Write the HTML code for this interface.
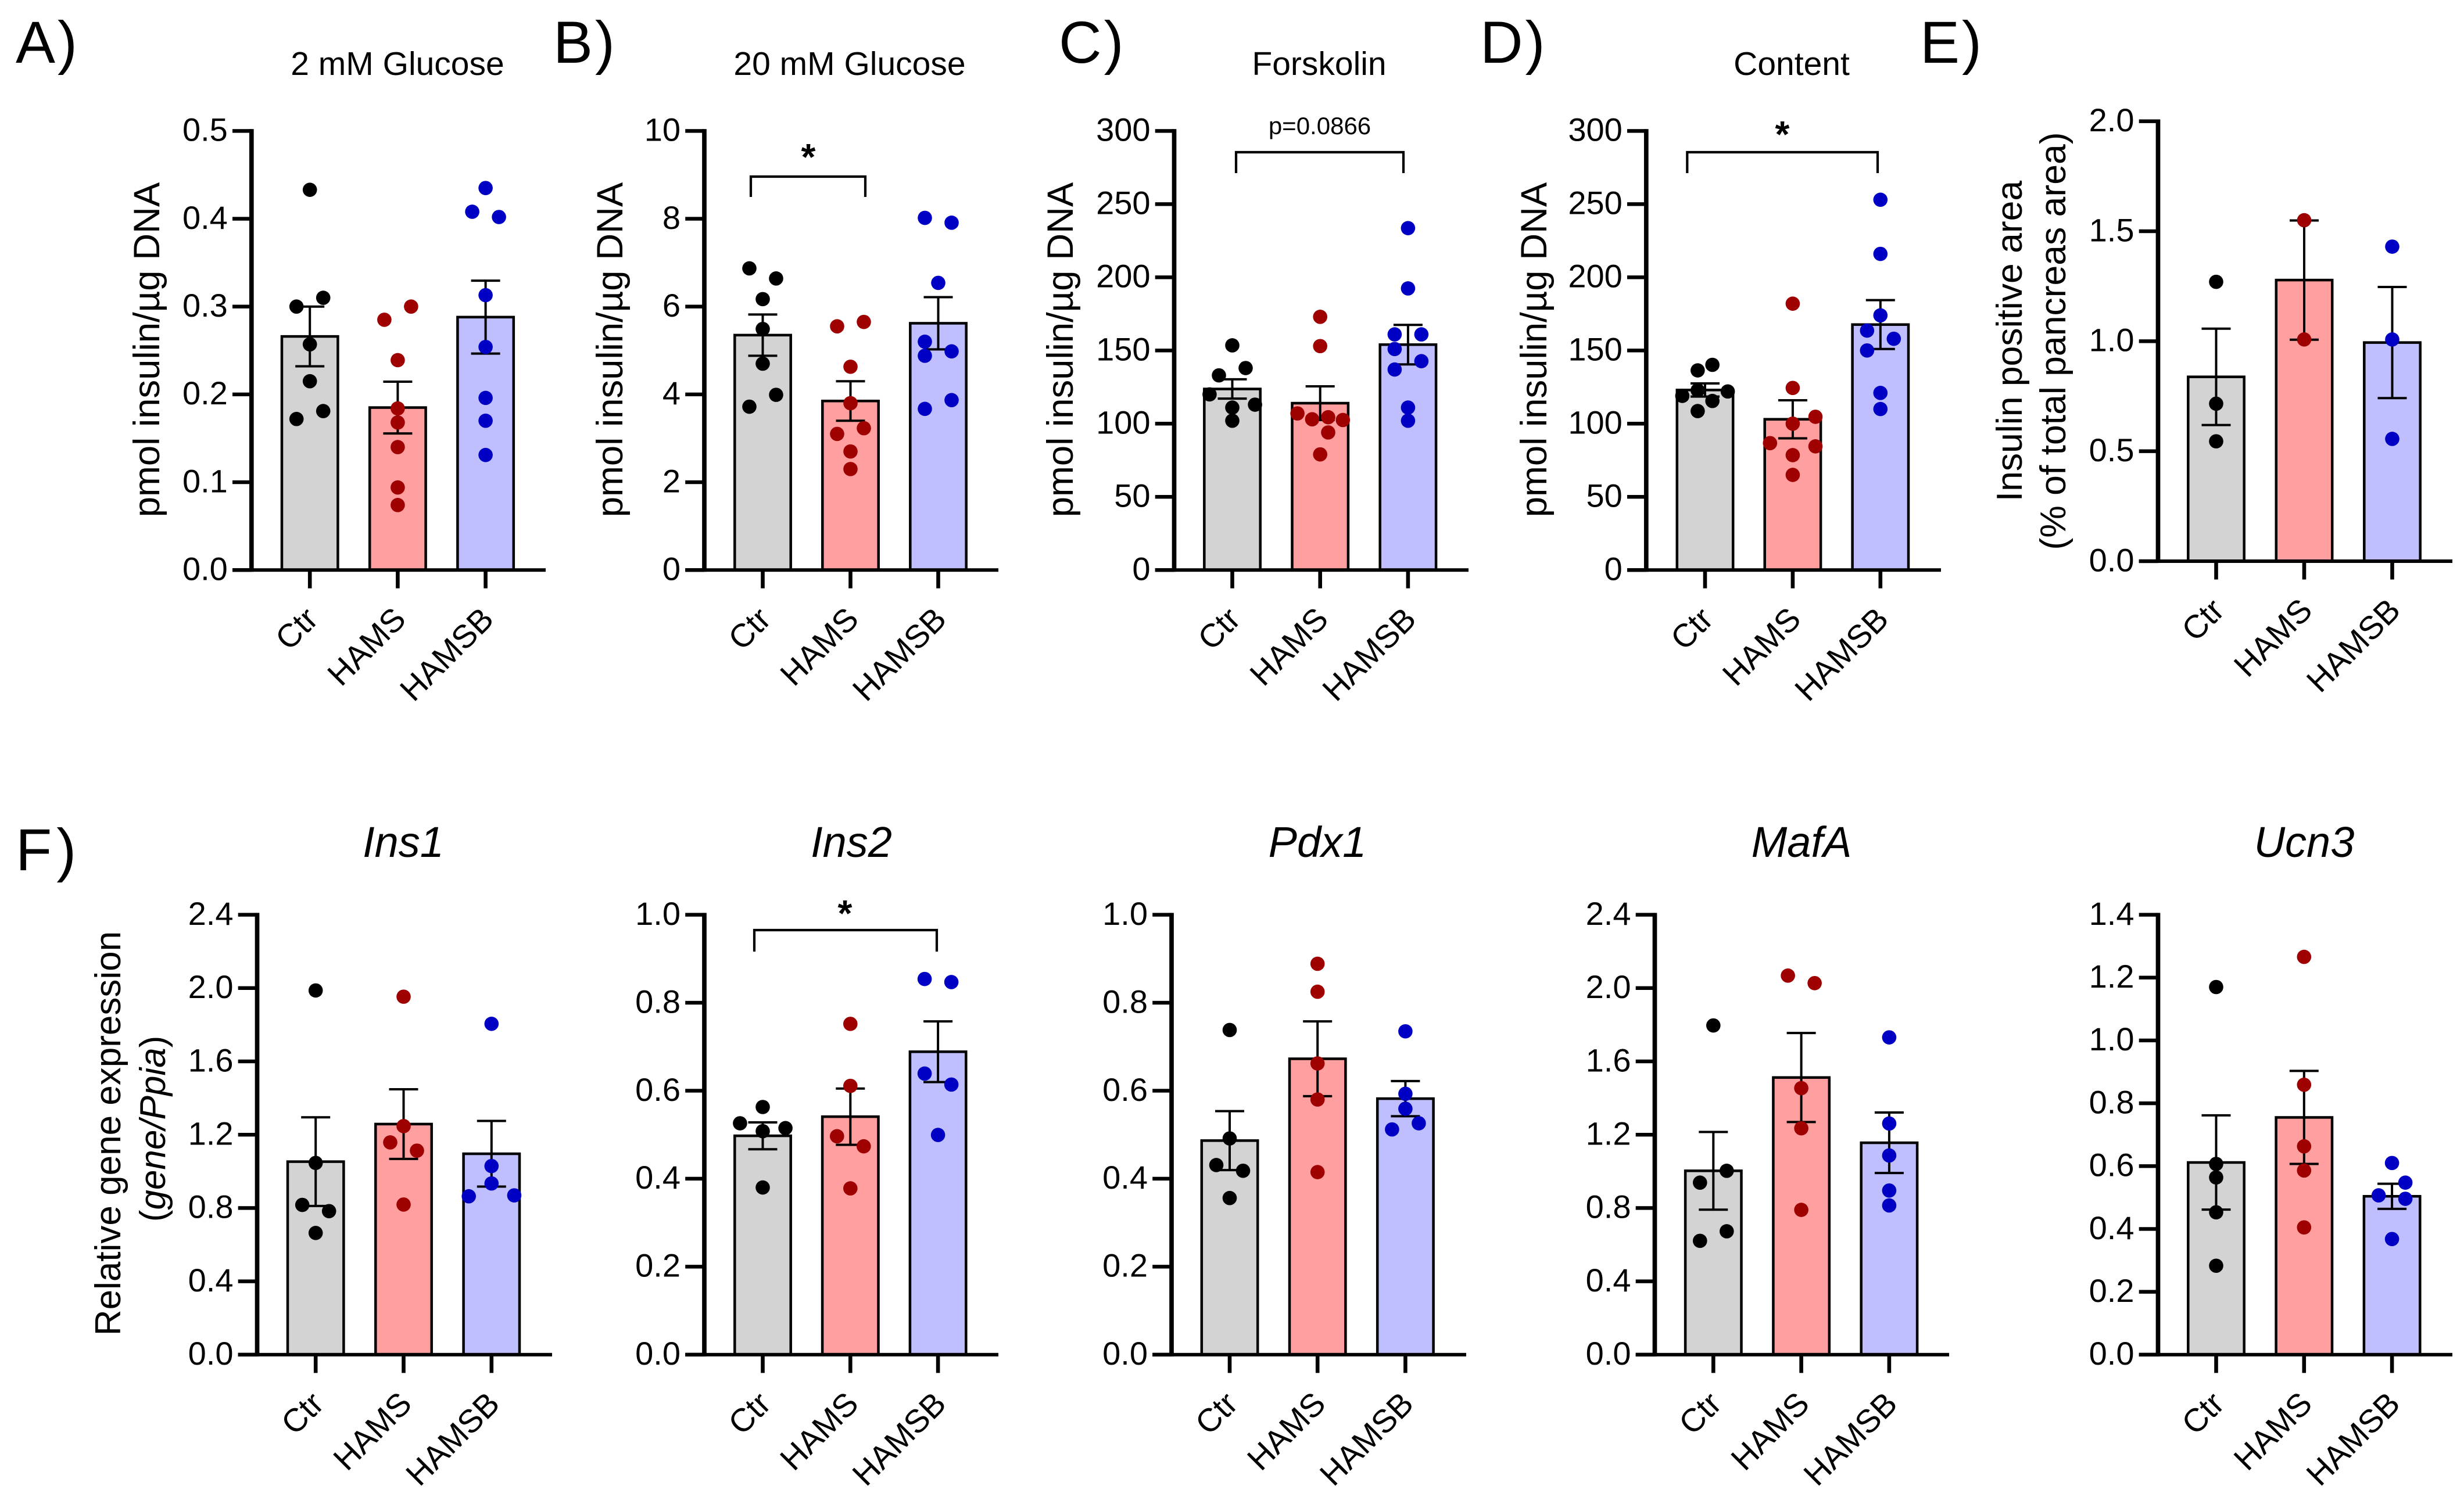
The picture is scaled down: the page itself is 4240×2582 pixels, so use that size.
<!DOCTYPE html>
<html lang="en">
<head>
<meta charset="utf-8">
<title>Insulin secretion and gene expression bar charts</title>
<style>
html,body{margin:0;padding:0;background:#fff;}
svg{display:block;}
text{font-family:"Liberation Sans",Arial,sans-serif;fill:#000;}
</style>
</head>
<body>
<svg id="figure" xmlns="http://www.w3.org/2000/svg" width="4240" height="2582" viewBox="0 0 4240 2582">
<rect width="4240" height="2582" fill="#fff"/>

<text x="27" y="108" font-size="102" letter-spacing="4">A)</text>
<text x="952" y="108" font-size="102" letter-spacing="4">B)</text>
<text x="1822" y="108" font-size="102" letter-spacing="4">C)</text>
<text x="2547" y="108" font-size="102" letter-spacing="4">D)</text>
<text x="3304" y="108" font-size="102" letter-spacing="4">E)</text>
<text x="27" y="1498" font-size="102" letter-spacing="8">F)</text>

<g id="panel-a">
<text x="684" y="129" font-size="57" text-anchor="middle">2 mM Glucose</text>
<text transform="translate(274,602) rotate(-90)" font-size="63.500" text-anchor="middle">pmol insulin/µg DNA</text>
</g>
<g id="panel-b">
<text x="1462" y="129" font-size="57" text-anchor="middle">20 mM Glucose</text>
<text transform="translate(1071,602) rotate(-90)" font-size="63.500" text-anchor="middle">pmol insulin/µg DNA</text>
<path d="M1292 339V304H1489V339" fill="none" stroke="#000" stroke-width="4.200"/>
<text x="1391" y="292" font-size="64" font-weight="bold" text-anchor="middle">*</text>
</g>
<g id="panel-c">
<text x="2270" y="129" font-size="57" text-anchor="middle">Forskolin</text>
<text transform="translate(1846,602) rotate(-90)" font-size="63.500" text-anchor="middle">pmol insulin/µg DNA</text>
<path d="M2127 298V262H2415V298" fill="none" stroke="#000" stroke-width="4.200"/>
<text x="2271" y="231" font-size="42" text-anchor="middle">p=0.0866</text>
</g>
<g id="panel-d">
<text x="3083" y="129" font-size="57" text-anchor="middle">Content</text>
<text transform="translate(2661,602) rotate(-90)" font-size="63.500" text-anchor="middle">pmol insulin/µg DNA</text>
<path d="M2903.300 298V262H3231V298" fill="none" stroke="#000" stroke-width="4.200"/>
<text x="3067" y="253" font-size="64" font-weight="bold" text-anchor="middle">*</text>
</g>
<g id="panel-e">
<text transform="translate(3479,587) rotate(-90)" font-size="62.500" text-anchor="middle">Insulin positive area</text>
<text transform="translate(3554,587) rotate(-90)" font-size="62.500" text-anchor="middle">(% of total pancreas area)</text>
</g>
<g id="panel-ins1">
<text x="694" y="1475" font-size="74" font-style="italic" text-anchor="middle">Ins1</text>
<text transform="translate(207,1951) rotate(-90)" font-size="62" text-anchor="middle">Relative gene expression</text>
<text transform="translate(284,1943) rotate(-90)" font-size="62" text-anchor="middle">(<tspan font-style="italic">gene/Ppia</tspan>)</text>
</g>
<g id="panel-ins2">
<text x="1465" y="1475" font-size="74" font-style="italic" text-anchor="middle">Ins2</text>
<path d="M1298 1638V1601H1612V1638" fill="none" stroke="#000" stroke-width="4.200"/>
<text x="1454" y="1594" font-size="64" font-weight="bold" text-anchor="middle">*</text>
</g>
<g id="panel-pdx1">
<text x="2267" y="1475" font-size="74" font-style="italic" text-anchor="middle">Pdx1</text>
</g>
<g id="panel-mafa">
<text x="3100" y="1475" font-size="74" font-style="italic" text-anchor="middle">MafA</text>
</g>
<g id="panel-ucn3">
<text x="3965" y="1475" font-size="74" font-style="italic" text-anchor="middle">Ucn3</text>
</g>
</svg>

<script>
const categories = ['Ctr', 'HAMS', 'HAMSB'];

const aTicks = ['0.0', '0.1', '0.2', '0.3', '0.4', '0.5'];
const aMeans = [0.266, 0.185, 0.288];
const aSems = [0.034, 0.0295, 0.0415];
const aCtr = [0.433, 0.310, 0.300, 0.257, 0.215, 0.181, 0.172];
const aCtrSpread = [0, 1, -1, 0, 0, 1, -1];
const aHams = [0.300, 0.285, 0.239, 0.184, 0.168, 0.140, 0.094, 0.074];
const aHamsSpread = [1, -1, 0, 0, 0, 0, 0, 0];
const aHamsb = [0.435, 0.408, 0.402, 0.313, 0.254, 0.196, 0.170, 0.131];
const aHamsbSpread = [0, -1, 1, 0, 0, 0, 0, 0];

const bTicks = ['0', '2', '4', '6', '8', '10'];
const bMeans = [5.35, 3.85, 5.62];
const bSems = [0.47, 0.45, 0.595];
const bCtr = [6.87, 6.64, 6.17, 5.49, 4.70, 3.99, 3.72];
const bCtrSpread = [-1, 1, 0, 0, 0, 1, -1];
const bHams = [5.65, 5.55, 4.63, 3.80, 3.23, 3.10, 2.70, 2.30];
const bHamsSpread = [1, -1, 0, 0, 1, -1, 0, 0];
const bHamsb = [8.02, 7.91, 6.54, 5.20, 4.88, 4.98, 3.87, 3.67];
const bHamsbSpread = [-1, 1, 0, -1, -1, 1, 1, -1];

const cTicks = ['0', '50', '100', '150', '200', '250', '300'];
const cMeans = [123.7, 114, 154];
const cSems = [6.6, 11.5, 13.5];
const cCtr = [153.5, 138, 133, 120, 113, 111, 102];
const cCtrSpread = [0, 1, -1, -1.7, 1.7, 0, 0];
const cHams = [173, 153, 107, 103, 104.4, 102.5, 94, 79];
const cHamsSpread = [0, 0, -1.7, -0.6, 0.6, 1.7, 0.6, 0];
const cHamsb = [233.6, 192.4, 161, 161, 151, 142.7, 137, 111, 102];
const cHamsbSpread = [0, 0, -1, 1, -1, 1, -1, 0, 0];

const dTicks = ['0', '50', '100', '150', '200', '250', '300'];
const dMeans = [123, 103, 167.7];
const dSems = [4.5, 13, 16.7];
const dCtr = [140.2, 136.4, 122, 119, 122.8, 115.5, 108.6];
const dCtrSpread = [0.55, -0.55, 1.7, -1.7, -0.55, 0.55, -0.55];
const dHams = [182, 124.4, 104.7, 100, 86.7, 84.5, 78.5, 65];
const dHamsSpread = [0, 0, 1.7, 0, -1.7, 1.7, 0, 0];
const dHamsb = [253, 216, 174, 163.6, 158, 150, 121, 110];
const dHamsbSpread = [0, 0, 0, -1, 1, -1, 0, 0];

const eTicks = ['0.0', '0.5', '1.0', '1.5', '2.0'];
const eMeans = [0.838, 1.278, 0.994];
const eSems = [0.219, 0.271, 0.2525];
const eCtr = [1.27, 0.716, 0.545];
const eCtrSpread = [0, 0, 0];
const eHams = [1.55, 1.008];
const eHamsSpread = [0, 0];
const eHamsb = [1.43, 1.008, 0.556];
const eHamsbSpread = [0, 0, 0];

const ins1Ticks = ['0.0', '0.4', '0.8', '1.2', '1.6', '2.0', '2.4'];
const ins1Means = [1.053, 1.258, 1.096];
const ins1Sems = [0.242, 0.19, 0.179];
const ins1Ctr = [1.987, 1.046, 0.817, 0.783, 0.664];
const ins1CtrSpread = [0, 0, -1, 1, 0];
const ins1Hams = [1.953, 1.247, 1.158, 1.113, 0.819];
const ins1HamsSpread = [0, 0, -1, 1, 0];
const ins1Hamsb = [1.805, 1.029, 0.934, 0.864, 0.869];
const ins1HamsbSpread = [0, 0, 0, -1.7, 1.7];

const ins2Ticks = ['0.0', '0.2', '0.4', '0.6', '0.8', '1.0'];
const ins2Means = [0.4975, 0.541, 0.6886];
const ins2Sems = [0.0305, 0.064, 0.069];
const ins2Ctr = [0.563, 0.526, 0.515, 0.508, 0.38];
const ins2CtrSpread = [0, -1.7, 1.7, 0, 0];
const ins2Hams = [0.752, 0.611, 0.4965, 0.4736, 0.378];
const ins2HamsSpread = [0, 0, -1, 1, 0];
const ins2Hamsb = [0.854, 0.847, 0.639, 0.614, 0.4995];
const ins2HamsbSpread = [-1, 1, -1, 1, 0];

const pdx1Ticks = ['0.0', '0.2', '0.4', '0.6', '0.8', '1.0'];
const pdx1Means = [0.4866, 0.6726, 0.582];
const pdx1Sems = [0.067, 0.085, 0.04];
const pdx1Ctr = [0.738, 0.4915, 0.431, 0.418, 0.356];
const pdx1CtrSpread = [0, 0, -1, 1, 0];
const pdx1Hams = [0.8886, 0.825, 0.662, 0.58, 0.415];
const pdx1HamsSpread = [0, 0, 0, 0, 0];
const pdx1Hamsb = [0.735, 0.593, 0.559, 0.526, 0.512];
const pdx1HamsbSpread = [0, 0, 0, 1, -1];

const mafaTicks = ['0.0', '0.4', '0.8', '1.2', '1.6', '2.0', '2.4'];
const mafaMeans = [1.003, 1.512, 1.156];
const mafaSems = [0.212, 0.243, 0.165];
const mafaCtr = [1.796, 1.003, 0.9385, 0.673, 0.621];
const mafaCtrSpread = [0, 1, -1, 1, -1];
const mafaHams = [2.068, 2.027, 1.454, 1.235, 0.79];
const mafaHamsSpread = [-1, 1, 0, 0, 0];
const mafaHamsb = [1.731, 1.261, 1.0866, 0.8955, 0.814];
const mafaHamsbSpread = [0, 0, 0, 0, 0];

const ucn3Ticks = ['0.0', '0.2', '0.4', '0.6', '0.8', '1.0', '1.2', '1.4'];
const ucn3Means = [0.6116, 0.755, 0.504];
const ucn3Sems = [0.15, 0.148, 0.04];
const ucn3Ctr = [1.17, 0.607, 0.564, 0.453, 0.283];
const ucn3CtrSpread = [0, 0, 0, 0, 0];
const ucn3Hams = [1.266, 0.859, 0.663, 0.586, 0.405];
const ucn3HamsSpread = [0, 0, 0, 0, 0];
const ucn3Hamsb = [0.61, 0.5475, 0.507, 0.496, 0.368];
const ucn3HamsbSpread = [0, 1, -1, 1, 0];

const SVG_NS = 'http://www.w3.org/2000/svg';
const barFills = ['#d3d3d3', '#ff9f9f', '#bfbfff'];
const dotFills = ['#000000', '#9f0000', '#0000c4'];

function make(tag, parent, props) {
  const node = document.createElementNS(SVG_NS, tag);
  Object.keys(props).forEach(function (k) { node.setAttribute(k, props[k]); });
  parent.appendChild(node);
  return node;
}

function drawPanel(layout, ticks, means, sems, dotSets, spreadSets) {
  const g = document.getElementById(layout.id);
  const maxVal = parseFloat(ticks[ticks.length - 1]);
  const yPos = function (v) { return layout.base - (v / maxVal) * (layout.base - layout.top); };
  const xPos = function (i) { return layout.x0 + i * layout.dx; };

  categories.forEach(function (cat, i) {
    const bar = make('rect', g, {
      x: xPos(i) - 48.2, y: yPos(means[i]), width: 96.4, height: layout.base - yPos(means[i]),
      fill: barFills[i], stroke: '#000', 'stroke-width': 4.5
    });
    
    

    const hi = yPos(means[i] + sems[i]);
    const lo = yPos(means[i] - sems[i]);
    const err = make('path', g, {
      d: 'M' + (xPos(i) - 25) + ' ' + hi + 'H' + (xPos(i) + 25) +
         'M' + xPos(i) + ' ' + hi + 'V' + lo +
         'M' + (xPos(i) - 25) + ' ' + lo + 'H' + (xPos(i) + 25),
      fill: 'none', stroke: '#000', 'stroke-width': 4
    });
    
    

    dotSets[i].forEach(function (v, k) {
      const dot = make('circle', g, {
        cx: xPos(i) + spreadSets[i][k] * 23, cy: yPos(v), r: 12.3, fill: dotFills[i]
      });
      
      
    });

    const xTick = make('rect', g, {
      x: xPos(i) - 3.3, y: layout.base, width: 6.6, height: 31.5, fill: '#000'
    });
    
    

    const xLabel = make('text', g, {
      transform: 'translate(' + (xPos(i) + 17) + ',' + (layout.base + 88) + ') rotate(-45)',
      'font-size': 56, 'text-anchor': 'end'
    });
    xLabel.textContent = cat;
    
    
  });

  ticks.forEach(function (label) {
    const v = parseFloat(label);
    const yTick = make('rect', g, {
      x: layout.axisX - 32.8, y: yPos(v) - 3.2, width: 32.8, height: 6.4, fill: '#000'
    });
    
    

    const yLabel = make('text', g, {
      x: layout.axisX - 41, y: yPos(v) + 17.3, 'font-size': 56, 'text-anchor': 'end'
    });
    yLabel.textContent = label;
    
    
  });

  const yAxis = make('rect', g, {
    x: layout.axisX - 3.85, y: layout.top - 3.2, width: 7.7, height: layout.base - layout.top + 6.2, fill: '#000'
  });
  
  

  const xAxis = make('rect', g, {
    x: layout.axisX - 32.8, y: layout.base - 3, width: layout.endX - layout.axisX + 32.8, height: 6, fill: '#000'
  });
  
  
}

const rowTop = { top: 225.4, base: 981.2 };
const rowBottom = { top: 1574.6, base: 2331.8 };

drawPanel({ id: 'panel-a', top: rowTop.top, base: rowTop.base, axisX: 432.8, endX: 939, x0: 533.2, dx: 151.2 },
  aTicks, aMeans, aSems, [aCtr, aHams, aHamsb], [aCtrSpread, aHamsSpread, aHamsbSpread]);
drawPanel({ id: 'panel-b', top: rowTop.top, base: rowTop.base, axisX: 1212, endX: 1718, x0: 1312.5, dx: 151 },
  bTicks, bMeans, bSems, [bCtr, bHams, bHamsb], [bCtrSpread, bHamsSpread, bHamsbSpread]);
drawPanel({ id: 'panel-c', top: rowTop.top, base: rowTop.base, axisX: 2020.5, endX: 2527, x0: 2120.5, dx: 151.2 },
  cTicks, cMeans, cSems, [cCtr, cHams, cHamsb], [cCtrSpread, cHamsSpread, cHamsbSpread]);
drawPanel({ id: 'panel-d', top: rowTop.top, base: rowTop.base, axisX: 2832.8, endX: 3340, x0: 2934, dx: 150.9 },
  dTicks, dMeans, dSems, [dCtr, dHams, dHamsb], [dCtrSpread, dHamsSpread, dHamsbSpread]);
drawPanel({ id: 'panel-e', top: 208.7, base: 966, axisX: 3713.5, endX: 4220, x0: 3813.5, dx: 151.5 },
  eTicks, eMeans, eSems, [eCtr, eHams, eHamsb], [eCtrSpread, eHamsSpread, eHamsbSpread]);
drawPanel({ id: 'panel-ins1', top: rowBottom.top, base: rowBottom.base, axisX: 442.5, endX: 950, x0: 543.2, dx: 151.3 },
  ins1Ticks, ins1Means, ins1Sems, [ins1Ctr, ins1Hams, ins1Hamsb], [ins1CtrSpread, ins1HamsSpread, ins1HamsbSpread]);
drawPanel({ id: 'panel-ins2', top: rowBottom.top, base: rowBottom.base, axisX: 1212, endX: 1718, x0: 1312.5, dx: 150.8 },
  ins2Ticks, ins2Means, ins2Sems, [ins2Ctr, ins2Hams, ins2Hamsb], [ins2CtrSpread, ins2HamsSpread, ins2HamsbSpread]);
drawPanel({ id: 'panel-pdx1', top: rowBottom.top, base: rowBottom.base, axisX: 2016, endX: 2523, x0: 2116, dx: 151.2 },
  pdx1Ticks, pdx1Means, pdx1Sems, [pdx1Ctr, pdx1Hams, pdx1Hamsb], [pdx1CtrSpread, pdx1HamsSpread, pdx1HamsbSpread]);
drawPanel({ id: 'panel-mafa', top: rowBottom.top, base: rowBottom.base, axisX: 2847.5, endX: 3354, x0: 2948.3, dx: 151.3 },
  mafaTicks, mafaMeans, mafaSems, [mafaCtr, mafaHams, mafaHamsb], [mafaCtrSpread, mafaHamsSpread, mafaHamsbSpread]);
drawPanel({ id: 'panel-ucn3', top: rowBottom.top, base: rowBottom.base, axisX: 3713.5, endX: 4220, x0: 3813.5, dx: 151.3 },
  ucn3Ticks, ucn3Means, ucn3Sems, [ucn3Ctr, ucn3Hams, ucn3Hamsb], [ucn3CtrSpread, ucn3HamsSpread, ucn3HamsbSpread]);
</script>
</body>
</html>
